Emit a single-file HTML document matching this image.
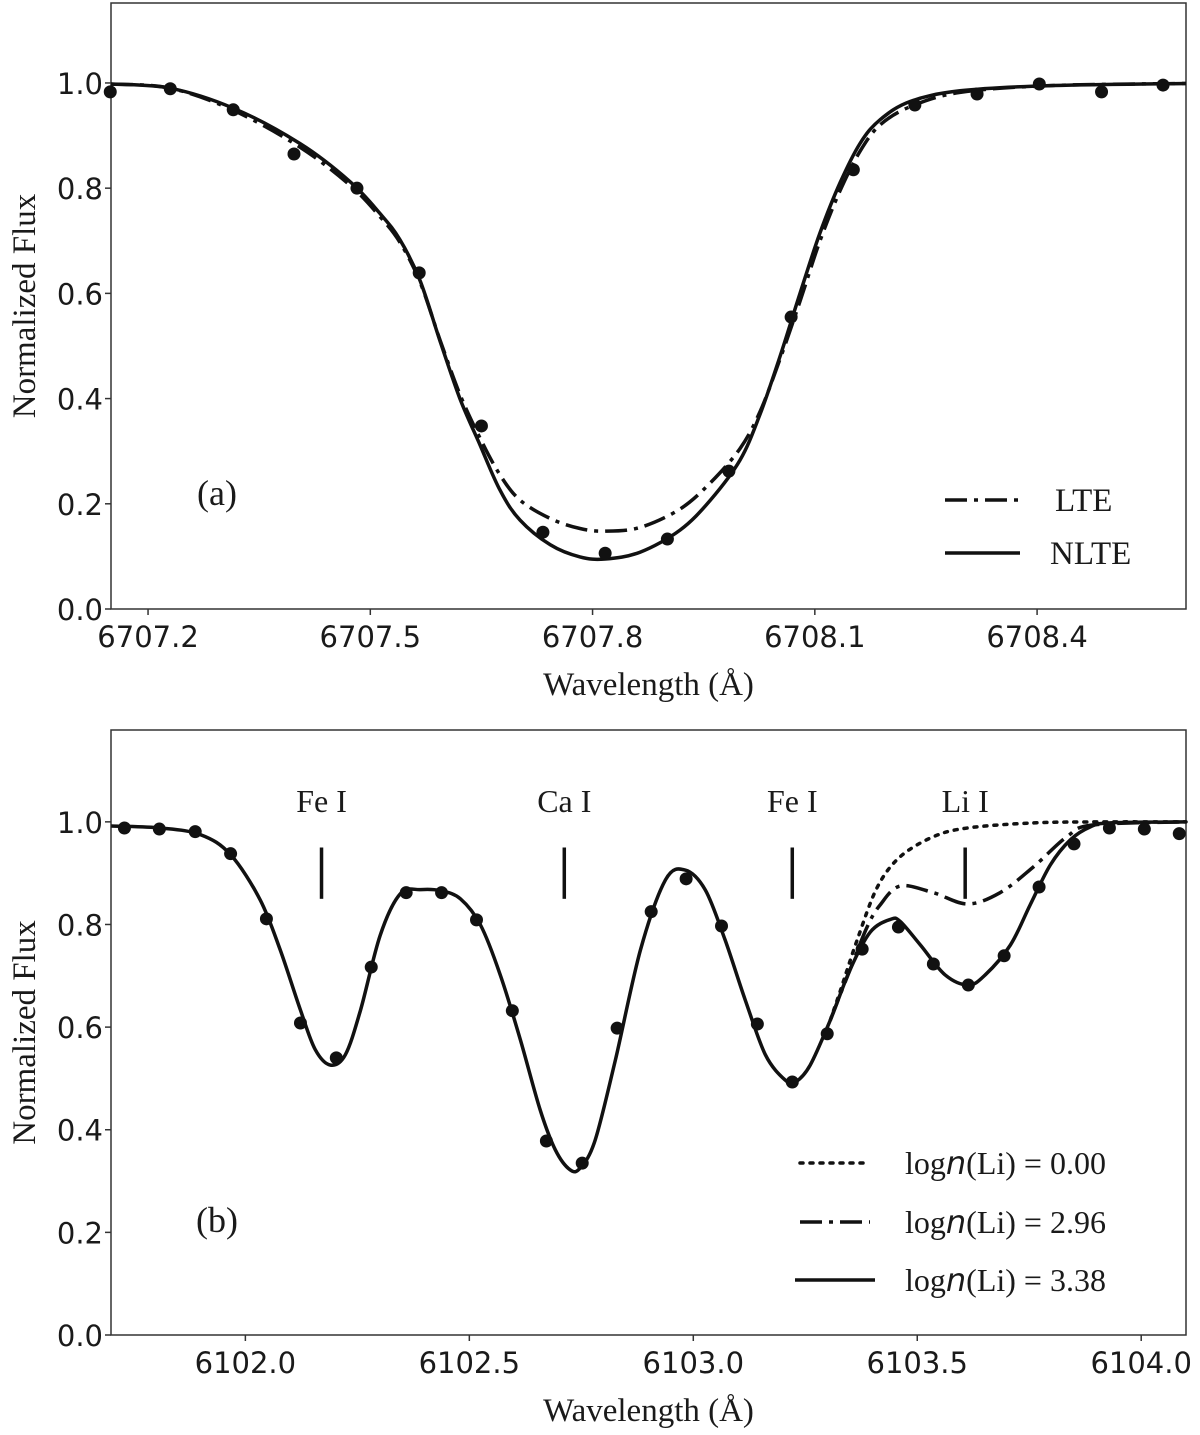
<!DOCTYPE html>
<html><head><meta charset="utf-8"><style>
html,body{margin:0;padding:0;background:#fff}
svg{display:block}
.tk{font-family:"DejaVu Sans","Liberation Sans",sans-serif;font-size:29px;fill:#1a1a1a}
.sf{font-family:"Liberation Serif",serif;fill:#1a1a1a}
</style></head><body>
<svg id="fig" width="1200" height="1435" viewBox="0 0 1200 1435" xmlns="http://www.w3.org/2000/svg">
<g id="pa"></g>
<g id="pb"></g>
</svg>
<script>
// ---------- Panel (a) data ----------
const aTicksX = [6707.2, 6707.5, 6707.8, 6708.1, 6708.4];
const aTickLabelsX = ["6707.2","6707.5","6707.8","6708.1","6708.4"];
const yTicks = [0.0, 0.2, 0.4, 0.6, 0.8, 1.0];
const yTickLabels = ["0.0","0.2","0.4","0.6","0.8","1.0"];
const aNlteWl = [6707.150,6707.230,6707.315,6707.405,6707.473,6707.513,6707.540,6707.567,6707.594,6707.621,6707.648,6707.675,6707.702,6707.743,6707.783,6707.817,6707.864,6707.918,6707.959,6707.999,6708.026,6708.053,6708.080,6708.107,6708.134,6708.161,6708.188,6708.229,6708.296,6708.418,6708.601];
const aNlteFlux = [0.998,0.990,0.952,0.885,0.812,0.752,0.702,0.625,0.510,0.400,0.312,0.226,0.169,0.122,0.099,0.095,0.108,0.150,0.207,0.283,0.370,0.480,0.600,0.715,0.810,0.885,0.930,0.965,0.985,0.995,0.999];
const aLteWl = [6707.150,6707.230,6707.315,6707.405,6707.473,6707.513,6707.540,6707.567,6707.594,6707.621,6707.648,6707.675,6707.702,6707.743,6707.783,6707.817,6707.864,6707.918,6707.959,6707.999,6708.026,6708.053,6708.080,6708.107,6708.134,6708.161,6708.188,6708.229,6708.296,6708.418,6708.601];
const aLteFlux = [0.998,0.990,0.948,0.878,0.805,0.746,0.697,0.622,0.512,0.408,0.325,0.255,0.207,0.172,0.153,0.148,0.155,0.190,0.240,0.305,0.375,0.475,0.585,0.700,0.795,0.870,0.920,0.955,0.982,0.995,0.999];
const aObsWl = [6707.149,6707.230,6707.315,6707.397,6707.482,6707.566,6707.650,6707.733,6707.817,6707.901,6707.984,6708.068,6708.152,6708.235,6708.319,6708.403,6708.487,6708.570];
const aObsFlux = [0.983,0.989,0.949,0.865,0.800,0.639,0.348,0.146,0.106,0.133,0.262,0.555,0.835,0.958,0.979,0.998,0.983,0.996];

// ---------- Panel (b) data ----------
const bTicksX = [6102.0, 6102.5, 6103.0, 6103.5, 6104.0];
const bTickLabelsX = ["6102.0","6102.5","6103.0","6103.5","6104.0"];
const bSolidWl = [6101.701,6101.810,6101.900,6101.967,6102.033,6102.078,6102.123,6102.156,6102.190,6102.223,6102.257,6102.301,6102.346,6102.391,6102.435,6102.480,6102.525,6102.569,6102.614,6102.658,6102.692,6102.725,6102.748,6102.781,6102.826,6102.882,6102.938,6102.982,6103.027,6103.071,6103.116,6103.161,6103.205,6103.228,6103.261,6103.306,6103.350,6103.395,6103.440,6103.462,6103.507,6103.562,6103.614,6103.652,6103.708,6103.752,6103.797,6103.842,6103.886,6103.931,6104.100];
const bSolidFlux = [0.992,0.988,0.975,0.936,0.848,0.750,0.633,0.556,0.526,0.546,0.633,0.779,0.860,0.868,0.866,0.850,0.799,0.702,0.575,0.439,0.361,0.322,0.326,0.380,0.536,0.750,0.887,0.906,0.867,0.770,0.653,0.546,0.497,0.493,0.526,0.614,0.712,0.785,0.810,0.806,0.760,0.702,0.682,0.702,0.760,0.838,0.916,0.965,0.990,0.998,1.000];
const bMidWl = [6103.306,6103.350,6103.388,6103.417,6103.462,6103.536,6103.612,6103.685,6103.759,6103.834,6103.893,6104.100];
const bMidFlux = [0.614,0.712,0.795,0.838,0.875,0.862,0.840,0.862,0.912,0.971,0.994,1.000];
const bLowWl = [6103.306,6103.328,6103.366,6103.411,6103.462,6103.536,6103.612,6103.759,6103.908,6104.100];
const bLowFlux = [0.614,0.670,0.770,0.873,0.932,0.971,0.988,0.998,1.000,1.000];
const bObsWl = [6101.730,6101.808,6101.888,6101.967,6102.047,6102.123,6102.203,6102.281,6102.359,6102.438,6102.516,6102.596,6102.672,6102.752,6102.830,6102.906,6102.984,6103.063,6103.143,6103.221,6103.299,6103.377,6103.458,6103.536,6103.614,6103.694,6103.772,6103.850,6103.929,6104.007,6104.085];
const bObsFlux = [0.988,0.986,0.981,0.938,0.811,0.608,0.540,0.717,0.862,0.862,0.809,0.632,0.378,0.335,0.598,0.825,0.889,0.797,0.606,0.493,0.587,0.752,0.795,0.723,0.682,0.739,0.873,0.957,0.988,0.986,0.977];
const lineIds = ["Fe I","Ca I","Fe I","Li I"];
const lineWl = [6102.170, 6102.712, 6103.221, 6103.607];
const lineMarkFlux = [0.95, 0.85];

const NS="http://www.w3.org/2000/svg";
function mk(parent, tag, attrs){const e=document.createElementNS(NS,tag);for(const k in attrs)e.setAttribute(k,attrs[k]);parent.appendChild(e);return e;}
function smoothPath(xs, ys, sx, sy){
  const p=xs.map((x,i)=>[sx(x),sy(ys[i])]);
  let d="M"+p[0][0].toFixed(1)+","+p[0][1].toFixed(1);
  for(let i=0;i<p.length-1;i++){
    const p0=p[i-1]||p[i],p1=p[i],p2=p[i+1],p3=p[i+2]||p2;
    const c1=[p1[0]+(p2[0]-p0[0])/6,p1[1]+(p2[1]-p0[1])/6];
    const c2=[p2[0]-(p3[0]-p1[0])/6,p2[1]-(p3[1]-p1[1])/6];
    d+=" C"+c1[0].toFixed(1)+","+c1[1].toFixed(1)+" "+c2[0].toFixed(1)+","+c2[1].toFixed(1)+" "+p2[0].toFixed(1)+","+p2[1].toFixed(1);
  }
  return d;
}
function axes(g, L, R, T, B, x0, x1, y1, xt, xtl, title){
  const sx=v=>L+(v-x0)/(x1-x0)*(R-L);
  const sy=v=>B-v/y1*(B-T);
  const frame=mk(g,"rect",{x:L,y:T,width:R-L,height:B-T,fill:"none",stroke:"#333","stroke-width":1.5});
  
  
  xt.forEach((v,i)=>{
    const t=mk(g,"line",{x1:sx(v),x2:sx(v),y1:B,y2:B+6,stroke:"#333","stroke-width":1.5});
    
    
    const lb=mk(g,"text",{x:sx(v),y:B+38,"text-anchor":"middle",class:"tk"});
    lb.textContent=xtl[i];
    
    
  });
  yTicks.forEach((v,i)=>{
    const t=mk(g,"line",{x1:L-6,x2:L,y1:sy(v),y2:sy(v),stroke:"#333","stroke-width":1.5});
    
    
    const lb=mk(g,"text",{x:L-8,y:sy(v)+11,"text-anchor":"end",class:"tk"});
    lb.textContent=yTickLabels[i];
    
    
  });
  const xl=mk(g,"text",{x:(L+R)/2,y:B+86,"text-anchor":"middle",class:"sf","font-size":33});
  xl.textContent="Wavelength (Å)";
  
  
  const yl=mk(g,"text",{x:0,y:0,"text-anchor":"middle",class:"sf","font-size":33,transform:"translate(35,"+((T+B)/2)+") rotate(-90)"});
  yl.textContent="Normalized Flux";
  
  
  const pl=mk(g,"text",{x:217,y:title[1],"text-anchor":"middle",class:"sf","font-size":36});
  pl.textContent=title[0];
  
  
  return {sx,sy};
}
function curve(g, xs, ys, s, dash, name){
  const p=mk(g,"path",{d:smoothPath(xs,ys,s.sx,s.sy),fill:"none",stroke:"#111","stroke-width":3.5,"stroke-linecap":dash==="3,7"?"round":"butt"});
  if(dash)p.setAttribute("stroke-dasharray",dash);
  
  
}
function dots(g, xs, ys, s){
  xs.forEach((x,i)=>{
    const c=mk(g,"circle",{cx:s.sx(x),cy:s.sy(ys[i]),r:6.5,fill:"#111"});
    
    
  });
}
function legendRow(g, x1, x2, y, dash, label, tx, fs, name){
  const l=mk(g,"line",{x1:x1,x2:x2,y1:y,y2:y,stroke:"#111","stroke-width":3.5,"stroke-linecap":dash==="3,7"?"round":"butt"});
  if(dash)l.setAttribute("stroke-dasharray",dash);
  
  
  const t=mk(g,"text",{x:tx,y:y+11,class:"sf","font-size":fs});
  t.innerHTML=label;
  
  
}

const DD="22,7,4,7";
// Panel a
const ga=document.getElementById("pa");
const sa=axes(ga,111,1186,3,609,6707.15,6708.601,1.152,aTicksX,aTickLabelsX,["(a)",505]);
curve(ga,aLteWl,aLteFlux,sa,DD,"lte-curve");
curve(ga,aNlteWl,aNlteFlux,sa,null,"nlte-curve");
dots(ga,aObsWl,aObsFlux,sa);
legendRow(ga,945,1020,500,DD,"LTE",1055,33,"lte");
legendRow(ga,945,1020,553,null,"NLTE",1050,33,"nlte");

// Panel b
const gb=document.getElementById("pb");
const sb=axes(gb,111,1186,730,1335,6101.70,6104.10,1.179,bTicksX,bTickLabelsX,["(b)",1232]);
curve(gb,bLowWl,bLowFlux,sb,"3,7","logn-0.00-curve");
curve(gb,bMidWl,bMidFlux,sb,DD,"logn-2.96-curve");
curve(gb,bSolidWl,bSolidFlux,sb,null,"logn-3.38-curve");
dots(gb,bObsWl,bObsFlux,sb);
lineWl.forEach((w,i)=>{
  const m=mk(gb,"line",{x1:sb.sx(w),x2:sb.sx(w),y1:sb.sy(lineMarkFlux[0]),y2:sb.sy(lineMarkFlux[1]),stroke:"#111","stroke-width":3.5});
  
  
  const t=mk(gb,"text",{x:sb.sx(w),y:812,"text-anchor":"middle",class:"sf","font-size":32});
  t.textContent=lineIds[i];
  
  
});
legendRow(gb,800,870,1163,"3,7","log<tspan font-style=\"italic\" font-family=\"DejaVu Sans, sans-serif\">n</tspan>(Li) = 0.00",905,32,"logn-0.00");
legendRow(gb,800,870,1222,DD,"log<tspan font-style=\"italic\" font-family=\"DejaVu Sans, sans-serif\">n</tspan>(Li) = 2.96",905,32,"logn-2.96");
legendRow(gb,795,875,1280,null,"log<tspan font-style=\"italic\" font-family=\"DejaVu Sans, sans-serif\">n</tspan>(Li) = 3.38",905,32,"logn-3.38");
</script>
</body></html>
